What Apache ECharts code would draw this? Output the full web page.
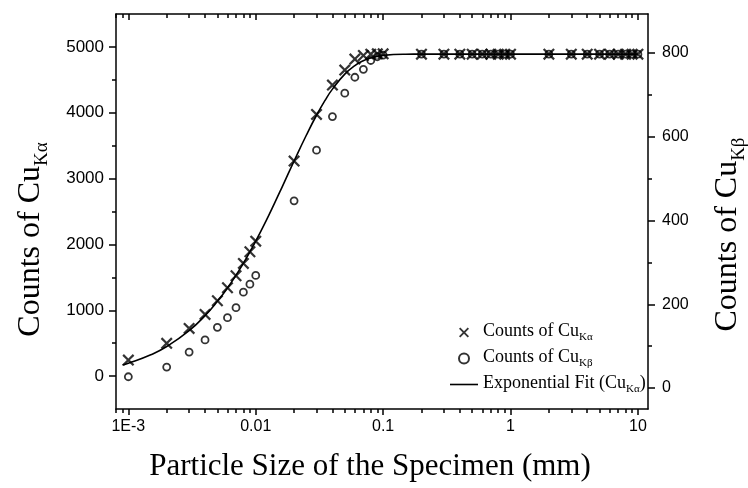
<!DOCTYPE html>
<html>
<head>
<meta charset="utf-8">
<script src="https://cdn.jsdelivr.net/npm/echarts@6/dist/echarts.min.js"></script>
<style>
  html, body { margin: 0; padding: 0; background: #fff; }
  #chart { width: 748px; height: 488px; }
</style>
</head>
<body>
<div id="chart"></div>
<script>
// particle sizes (mm) of the measured specimens
const sizes = [
  0.001, 0.002, 0.003, 0.004, 0.005, 0.006, 0.007, 0.008, 0.009,
  0.01, 0.02, 0.03, 0.04, 0.05, 0.06, 0.07, 0.08, 0.09, 0.1,
  0.2, 0.3, 0.4, 0.5, 0.6, 0.7, 0.8, 0.9, 1,
  2, 3, 4, 5, 6, 7, 8, 9, 10
]
const countsKa = [
  243, 497, 724, 937, 1144, 1341, 1524, 1712, 1888,
  2050, 3266, 3975, 4420, 4648, 4815, 4870, 4890, 4895, 4895,
  4890, 4890, 4890, 4890, 4890, 4890, 4890, 4890, 4890,
  4890, 4890, 4890, 4890, 4890, 4890, 4890, 4890, 4890
]
const countsKb = [
  27, 50, 86, 115, 145, 168, 192, 229, 248,
  269, 447, 568, 648, 704, 742, 761, 782, 791, 795,
  797, 797, 797, 797, 797, 797, 797, 797, 797,
  797, 797, 797, 797, 797, 797, 797, 797, 797
]
// fitted curve
const fitSizes = [
  0.0009, 0.001, 0.0015, 0.002, 0.003, 0.004, 0.005, 0.006, 0.007, 0.008, 0.009,
  0.01, 0.012, 0.014, 0.016, 0.02, 0.025, 0.03, 0.035, 0.04, 0.05, 0.06, 0.07,
  0.08, 0.1, 0.15, 0.2, 1, 10
]
const fitCounts = [
  170, 194, 323, 449, 691, 919, 1135, 1339, 1532, 1715, 1888,
  2050, 2351, 2620, 2860, 3267, 3662, 3962, 4188, 4359, 4587, 4717, 4791,
  4833, 4871, 4889, 4890, 4890, 4890
]
// tick positions
const xMajorTicks = [0.001, 0.01, 0.1, 1, 10]
const xMinorTicks = [
  0.0008, 0.0009,
  0.002, 0.003, 0.004, 0.005, 0.006, 0.007, 0.008, 0.009,
  0.02, 0.03, 0.04, 0.05, 0.06, 0.07, 0.08, 0.09,
  0.2, 0.3, 0.4, 0.5, 0.6, 0.7, 0.8, 0.9,
  2, 3, 4, 5, 6, 7, 8, 9
]
const kaMajorTicks = [0, 1000, 2000, 3000, 4000, 5000]
const kaMinorTicks = [500, 1500, 2500, 3500, 4500]
const kbMajorTicks = [0, 200, 400, 600, 800]
const kbMinorTicks = [100, 300, 500, 700]

const serif = 'Liberation Serif'
const sans = 'Liberation Sans'
const crossPath = 'path://M0,1.3L1.3,0L5,3.7L8.7,0L10,1.3L6.3,5L10,8.7L8.7,10L5,6.3L1.3,10L0,8.7L3.7,5Z'

const richTitle = {
  m: { fontFamily: serif, fontSize: 32, color: '#000', lineHeight: 36, verticalAlign: 'top' },
  s: { fontFamily: serif, fontSize: 19, color: '#000', verticalAlign: 'top', padding: [18, 0, 0, 0] },
}
const richLegend = {
  m: { fontFamily: serif, fontSize: 18, color: '#000', lineHeight: 20, verticalAlign: 'top' },
  s: { fontFamily: serif, fontSize: 11, color: '#000', verticalAlign: 'top', padding: [10, 0, 0, 0] },
}
const legendNames = {
  Ka: '{m|Counts of Cu}{s|Kα}',
  Kb: '{m|Counts of Cu}{s|Kβ}',
  Fit: '{m|Exponential Fit (Cu}{s|Kα}{m|)}',
}

const axisLine = { show: true, onZero: false, lineStyle: { color: '#000', width: 1.5 } }
const hiddenLine = { show: false, onZero: false }
const tickLine = { color: '#000', width: 1.5 }
const plainNumber = (v) => String(v)

const xBase = {
  type: 'log',
  logBase: 10,
  min: 0.0008,
  max: 12,
  gridIndex: 0,
  splitLine: { show: false },
}
const yBase = {
  type: 'value',
  splitLine: { show: false },
}

const chartEl = document.getElementById('chart')
const chartInstance = echarts.init(chartEl, null, { renderer: 'canvas' })

const option = {
  backgroundColor: '#fff',
  animation: false,
  grid: { left: 116, right: 100, top: 14, bottom: 79, outerBoundsMode: 'none', containLabel: false },
  legend: {
    orient: 'vertical',
    left: 450,
    top: 322,
    padding: 0,
    itemWidth: 28,
    itemHeight: 10,
    itemGap: 5,
    data: [
      { name: 'Ka' },
      { name: 'Kb' },
      { name: 'Fit', icon: 'path://M0,0L28,0L28,1.6L0,1.6Z', itemStyle: { color: '#000' } },
    ],
    formatter: (name) => legendNames[name],
    textStyle: { rich: richLegend },
  },
  xAxis: [
    {
      ...xBase,
      position: 'bottom',
      axisLine,
      axisTick: { show: true, inside: false, length: 6, customValues: xMajorTicks, lineStyle: tickLine },
      axisLabel: {
        customValues: xMajorTicks,
        margin: 10,
        fontFamily: sans,
        fontSize: 16,
        color: '#000',
        formatter: (v) => (Math.abs(v - 0.001) < 1e-9 ? '1E-3' : String(+v.toPrecision(3))),
      },
      name: '{m|Particle Size of the Specimen (mm)}',
      nameLocation: 'middle',
      nameGap: 42,
      nameTextStyle: { rich: { m: { fontFamily: serif, fontSize: 31, color: '#000' } }, padding: [0, 24, 0, 0] },
    },
    {
      ...xBase,
      position: 'bottom',
      axisLine: hiddenLine,
      axisTick: { show: true, inside: false, length: 4, customValues: xMinorTicks, lineStyle: tickLine },
      axisLabel: { show: false },
    },
    {
      ...xBase,
      position: 'top',
      axisLine,
      axisTick: { show: true, inside: true, length: 6, customValues: xMajorTicks, lineStyle: tickLine },
      axisLabel: { show: false },
    },
    {
      ...xBase,
      position: 'top',
      axisLine: hiddenLine,
      axisTick: { show: true, inside: true, length: 4, customValues: xMinorTicks, lineStyle: tickLine },
      axisLabel: { show: false },
    },
  ],
  yAxis: [
    {
      ...yBase,
      position: 'left',
      min: -500,
      max: 5500,
      axisLine,
      axisTick: { show: true, length: 7, customValues: kaMajorTicks, lineStyle: tickLine },
      axisLabel: { customValues: kaMajorTicks, margin: 12, fontFamily: sans, fontSize: 17, color: '#000', formatter: plainNumber },
      name: '{m|Counts of Cu}{s|Kα}',
      nameLocation: 'middle',
      nameRotate: 90,
      nameGap: 64,
      nameTextStyle: { rich: richTitle, padding: [0, 56, 0, 0] },
    },
    {
      ...yBase,
      position: 'left',
      min: -500,
      max: 5500,
      axisLine: hiddenLine,
      axisTick: { show: true, length: 4, customValues: kaMinorTicks, lineStyle: tickLine },
      axisLabel: { show: false },
    },
    {
      ...yBase,
      position: 'right',
      min: -50,
      max: 893,
      axisLine,
      axisTick: { show: true, length: 7, customValues: kbMajorTicks, lineStyle: tickLine },
      axisLabel: { customValues: kbMajorTicks, margin: 14, fontFamily: sans, fontSize: 16, color: '#000', formatter: plainNumber },
      name: '{m|Counts of Cu}{s|Kβ}',
      nameLocation: 'middle',
      nameRotate: 90,
      nameGap: 64,
      nameTextStyle: { rich: richTitle, padding: [0, 46, 0, 0] },
    },
    {
      ...yBase,
      position: 'right',
      min: -50,
      max: 893,
      axisLine: hiddenLine,
      axisTick: { show: true, length: 4, customValues: kbMinorTicks, lineStyle: tickLine },
      axisLabel: { show: false },
    },
  ],
  series: [
    {
      name: 'Fit',
      type: 'line',
      xAxisIndex: 0,
      yAxisIndex: 0,
      symbol: 'none',
      smooth: true,
      lineStyle: { color: '#000', width: 1.6 },
      itemStyle: { color: '#000' },
      data: fitSizes.map((s, i) => [s, fitCounts[i]]),
      z: 1,
    },
    {
      name: 'Ka',
      type: 'scatter',
      xAxisIndex: 0,
      yAxisIndex: 0,
      symbol: crossPath,
      symbolSize: 12,
      itemStyle: { color: '#000' },
      data: sizes.map((s, i) => [s, countsKa[i]]),
      z: 3,
    },
    {
      name: 'Kb',
      type: 'scatter',
      xAxisIndex: 0,
      yAxisIndex: 2,
      symbol: 'circle',
      symbolSize: 7,
      itemStyle: { color: 'rgba(0,0,0,0)', borderColor: '#000', borderWidth: 1.8 },
      data: sizes.map((s, i) => [s, countsKb[i]]),
      z: 4,
    },
  ],
}

chartInstance.setOption(option)
</script>
</body>
</html>
